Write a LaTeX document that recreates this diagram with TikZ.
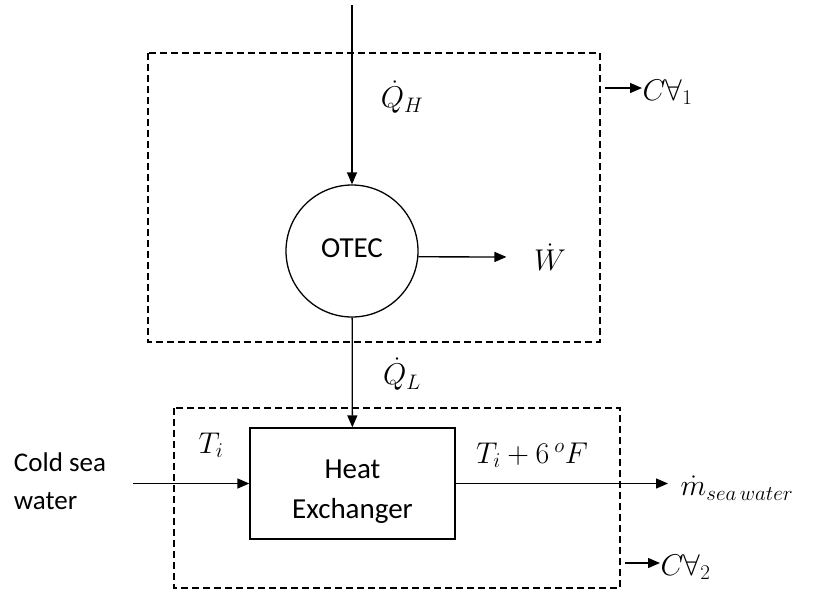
\RequirePackage{fix-cm}
\documentclass[tikz,border=0pt]{standalone}
\usepackage{fontspec}
\setmainfont{Carlito}
\usetikzlibrary{arrows.meta, positioning}

\begin{document}
\begin{tikzpicture}[
    x=1pt, y=-1pt,
    >={Triangle[length=12pt,width=10pt]},
    line width=1.3pt,
    every node/.style={font=\fontsize{29}{40}\selectfont},
    mathlabel/.style={font=\fontsize{30}{34}\selectfont, inner sep=0pt},
    sidetext/.style={font=\fontsize{27}{38}\selectfont},
    cvbox/.style={draw, dash pattern=on 7pt off 4pt, line width=1.2pt},
    unit/.style={draw, line width=1.3pt, inner sep=0pt}
]
\useasboundingbox (0,0) rectangle (814,598);

% control volumes
\draw[cvbox] (148,53) rectangle (600,342);
\draw[cvbox] (174,408) rectangle (620,588);

% units
\node[unit, circle, minimum size=132pt] (otec) at (352,251) {\raisebox{5pt}{OTEC}};
\node[unit, rectangle, minimum width=205pt, minimum height=111pt] (hx) at (352.5,483.5) {};
\node[align=center] (hxtext) at ([yshift=-8pt]hx.center) {Heat\\Exchanger};

% labels
\node[mathlabel] (qh) at (402,97) {$\dot Q_H$};
\node[mathlabel] (ql) at (402,374) {$\dot Q_L$};
\node[mathlabel] (wdot) at (550,257) {$\dot W$};
\node[mathlabel] (ti) at (211,445) {$T_i$};
\node[mathlabel] (tout) at (532,455) {$T_i + 6\,{}^{o}F$};
\node[mathlabel, anchor=west] (mdot) at (680,488) {$\dot m_{sea\,water}$};
\node[sidetext, align=left, anchor=west] (cold) at (10,481) {Cold sea\\water};
\node[mathlabel, anchor=west] (cv1) at (642,92) {$C\forall_1$};
\node[mathlabel, anchor=west] (cv2) at (660,567) {$C\forall_2$};

\coordinate (src) at (352,5);
\coordinate (cv1a) at (605,88);
\coordinate (cv2a) at (625,563);

% flows
\draw[->] (src) -- (otec);
\draw[->] (otec) -- (hx);
\draw[->, shorten >=27pt] (otec.-5) -- (wdot.west);
\draw[->, shorten <=23pt] (cold.east |- hx.west) -- (hx.west);
\draw[->, shorten >=12pt] (hx.east) -- (mdot.west |- hx.east);
\draw[->] (cv1a) -- (cv1a -| cv1.west);
\draw[->] (cv2a) -- (cv2a -| cv2.west);
\end{tikzpicture}
\end{document}
